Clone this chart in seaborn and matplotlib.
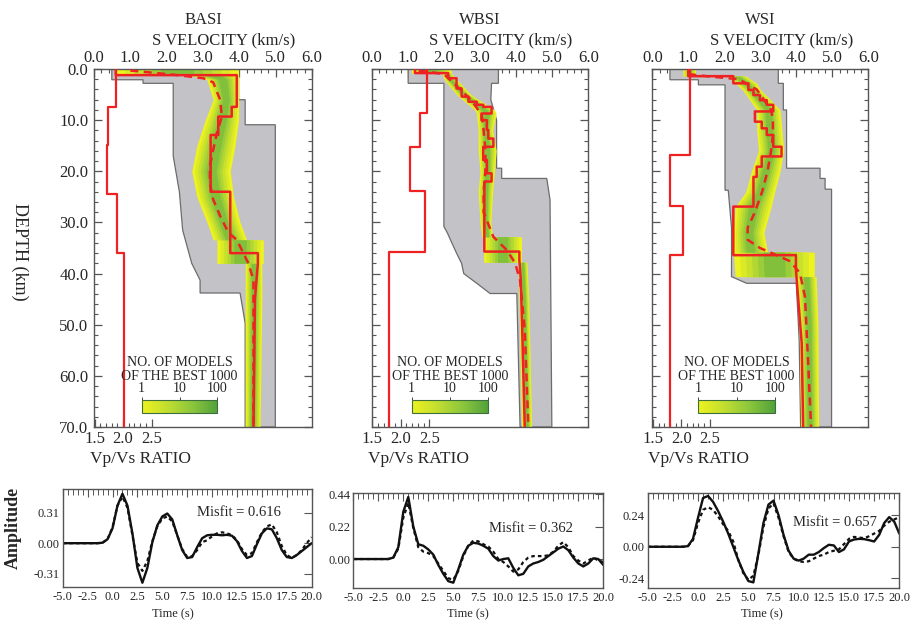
import numpy as np
import matplotlib
matplotlib.use("Agg")
import matplotlib.pyplot as plt
from matplotlib.colors import LinearSegmentedColormap, LogNorm
from matplotlib.cm import ScalarMappable
from matplotlib.ticker import MultipleLocator, FixedLocator
import seaborn as sns

# ------------------------------------------------------------------ data
stations = ["BASI", "WBSI", "WSI"]
misfits = [0.616, 0.362, 0.657]

# best-fitting S-velocity model: layer boundaries (km) / velocities (km/s) + gradient tail
basi_best_bounds = [0, 1.2, 7.4, 9.3, 12.9, 24, 36, 38]
basi_best_vs = [0.6, 3.93, 3.79, 3.42, 3.21, 3.75, 4.51]
basi_tail_depth = [45, 70]
basi_tail_vs = [4.43, 4.39]

wbsi_best_bounds = [0, 0.8, 1.8, 3.8, 5.4, 6.4, 7.0, 7.4, 8.7, 10, 11.9, 13.6, 15.2, 17.8, 20.4, 22, 35.7, 37.3]
wbsi_best_vs = [1.2, 2.12, 2.35, 2.49, 2.68, 2.91, 3.09, 3.32, 3.04, 3.19, 3.23, 3.37, 3.09, 3.19, 3.32, 3.12, 4.09]
wbsi_tail_depth = [41.3, 51, 70]
wbsi_tail_vs = [4.13, 4.17, 4.24]

wsi_best_bounds = [0, 1.4, 2.8, 4.1, 5.1, 6.1, 7.0, 8.3, 10.3, 11.6, 12.9, 15.2, 17.1, 19.1, 21.1, 26.9, 36.4, 39.3]
wsi_best_vs = [1.0, 2.25, 2.67, 2.81, 2.99, 3.18, 3.36, 2.85, 3.04, 3.18, 3.36, 3.59, 3.04, 2.90, 2.81, 2.25, 3.99]
wsi_tail_depth = [53.6, 70]
wsi_tail_vs = [4.15, 4.19]

# Vp/Vs ratio of the best model
basi_vpvs_bounds = [0, 7.4, 14.8, 24.5, 36, 70]
basi_vpvs = [1.87, 1.74, 1.72, 1.90, 2.01]
wbsi_vpvs_bounds = [0, 8.7, 15.2, 23.8, 35.7, 70]
wbsi_vpvs = [2.46, 2.34, 2.16, 2.43, 1.79]
wsi_vpvs_bounds = [0, 16.8, 26.8, 36.4, 70]
wsi_vpvs = [2.16, 1.80, 2.02, 1.80]

# mean of the best 1000 models
basi_mean_depth = [0.3, 1.2, 1.8, 2.6, 6, 9.3, 12.6, 15.8, 19, 22.3, 25.5, 28.7, 32, 33.4, 36, 38, 41.3, 70]
basi_mean_vs = [1.0, 2.3, 3.0, 3.28, 3.47, 3.52, 3.38, 3.28, 3.19, 3.19, 3.28, 3.47, 3.70, 3.93, 4.11, 4.25, 4.39, 4.39]
wbsi_mean_depth = [0.3, 1, 3, 6, 9, 12, 16, 20, 24, 28, 32.8, 35.4, 37.9, 41.3, 51, 70]
wbsi_mean_vs = [1.3, 2.0, 2.3, 2.75, 3.05, 3.1, 3.15, 3.15, 3.1, 3.1, 3.37, 3.74, 3.97, 4.11, 4.24, 4.34]
wsi_mean_depth = [1.0, 1.4, 2, 4, 6, 8, 10, 13, 16, 20, 24, 28, 31, 33.4, 35, 36.4, 37.6, 39.9, 44.5, 57.5, 70]
wsi_mean_vs = [1.0, 1.5, 2.4, 2.9, 3.1, 3.3, 3.35, 3.35, 3.3, 3.2, 3.05, 2.85, 2.65, 2.65, 2.99, 3.45, 3.83, 4.1, 4.24, 4.33, 4.41]

# envelope of all tested models
basi_env_left_depth = [0, 2.1, 2.1, 2.8, 2.8, 17, 24, 31.5, 38, 41.3, 43.8, 43.8, 49.7, 70]
basi_env_left_vs = [0.49, 0.49, 1.35, 1.35, 2.18, 2.18, 2.35, 2.44, 2.69, 2.92, 2.92, 4.02, 4.16, 4.16]
basi_env_right_depth = [0, 6, 6, 10.9, 10.9, 70]
basi_env_right_vs = [3.98, 3.98, 4.16, 4.16, 4.99, 4.99]
wbsi_env_left_depth = [0, 2.8, 2.8, 30.8, 32.1, 34, 36, 38, 40, 41.9, 43.9, 43.9, 70]
wbsi_env_left_vs = [1.01, 1.01, 2.0, 2.0, 2.1, 2.22, 2.35, 2.49, 2.55, 2.91, 3.28, 4.02, 4.11]
wbsi_env_right_depth = [0, 2.8, 2.8, 6, 10, 19.4, 19.4, 21.4, 21.4, 25.6, 70]
wbsi_env_right_vs = [3.51, 3.51, 3.32, 3.3, 3.46, 3.46, 3.6, 3.6, 4.85, 4.94, 4.99]
wsi_env_left_depth = [0, 2.1, 2.1, 3.1, 3.1, 23.7, 23.7, 31, 40.6, 41.9, 41.9, 53, 70]
wsi_env_left_vs = [0.49, 0.49, 1.28, 1.28, 2.02, 2.02, 2.11, 2.2, 2.2, 2.62, 4.0, 4.08, 4.12]
wsi_env_right_depth = [0, 2.8, 2.8, 8, 8, 19.4, 19.4, 21.4, 21.4, 23.5, 23.5, 70]
wsi_env_right_vs = [3.50, 3.50, 3.64, 3.64, 3.73, 3.73, 4.66, 4.66, 4.8, 4.8, 4.98, 4.98]

# range covered by the best 1000 models
basi_band_depth = [0, 1.2, 1.2, 2, 6, 10, 15, 20, 25, 30, 33.4, 33.4, 38, 38, 45, 70]
basi_band_lo = [0.6, 0.6, 2.57, 3.1, 3.28, 3.06, 2.83, 2.69, 2.83, 3.11, 3.28, 3.38, 3.38, 4.16, 4.16, 4.16]
basi_band_hi = [3.98, 3.98, 3.98, 3.98, 3.98, 3.98, 3.88, 3.75, 3.84, 4.02, 4.2, 4.66, 4.66, 4.62, 4.62, 4.57]
wbsi_band_depth = [0, 0.8, 0.8, 2, 5, 8, 8.7, 12, 16, 20, 24, 30, 32.8, 32.8, 37.8, 37.8, 45, 70]
wbsi_band_lo = [1.1, 1.1, 1.95, 2.0, 2.35, 2.85, 2.9, 2.95, 2.95, 3.0, 2.95, 3.0, 3.05, 3.1, 3.1, 4.05, 4.08, 4.15]
wbsi_band_hi = [2.2, 2.2, 2.2, 2.35, 2.75, 3.4, 3.45, 3.35, 3.45, 3.4, 3.35, 3.3, 3.35, 4.15, 4.15, 4.3, 4.35, 4.43]
wsi_band_depth = [0, 1.4, 1.4, 2.8, 4, 8, 12, 16, 20, 24, 27, 32, 35.8, 35.8, 40.6, 40.6, 50, 70]
wsi_band_lo = [0.85, 0.85, 2.1, 2.3, 2.5, 2.9, 2.9, 2.95, 2.75, 2.6, 2.3, 2.25, 2.25, 2.25, 2.3, 4.0, 4.08, 4.12]
wsi_band_hi = [1.2, 1.2, 2.6, 2.9, 3.0, 3.55, 3.6, 3.65, 3.55, 3.4, 3.3, 3.1, 3.2, 4.5, 4.5, 4.55, 4.6, 4.62]

# receiver functions: observed (solid) and synthetic (dotted), 0.5 s samples
time_s = np.linspace(-5.0, 20.0, 51)
basi_obs = [0, 0, 0, 0, 0, 0, 0, 0,
            0.005, 0.04, 0.15, 0.38, 0.50, 0.38, 0.10, -0.25, -0.40, -0.25,
            0.01, 0.18, 0.27, 0.30, 0.24, 0.08, -0.07, -0.15, -0.14, -0.04,
            0.05, 0.08, 0.085, 0.085, 0.08, 0.085, 0.075, 0.02, -0.08, -0.15,
            -0.13, -0.01, 0.10, 0.15, 0.14, 0.05, -0.07, -0.14, -0.15, -0.12,
            -0.08, -0.04, 0.00]
basi_syn = [0, 0, 0, 0, 0, 0, 0, 0,
            0.005, 0.04, 0.16, 0.38, 0.47, 0.36, 0.08, -0.20, -0.28, -0.18,
            0.02, 0.17, 0.25, 0.27, 0.22, 0.08, -0.06, -0.14, -0.13, -0.07,
            0.01, 0.03, 0.07, 0.10, 0.11, 0.10, 0.08, 0.03, -0.06, -0.12,
            -0.10, 0.01, 0.11, 0.17, 0.19, 0.11, -0.03, -0.12, -0.15, -0.12,
            -0.07, 0.00, 0.06]
wbsi_obs = [0, 0, 0, 0, 0, 0, 0, 0,
            0.01, 0.08, 0.32, 0.42, 0.22, 0.10, 0.09, 0.065, 0.03, -0.04,
            -0.10, -0.15, -0.16, -0.07, 0.03, 0.09, 0.11, 0.105, 0.09, 0.07,
            0.02, -0.01, 0.0, 0.005, -0.06, -0.11, -0.10, -0.05, -0.03, -0.02,
            -0.005, 0.02, 0.045, 0.07, 0.085, 0.06, 0.01, -0.03, -0.05, -0.03,
            0.005, 0.0, -0.04]
wbsi_syn = [0, 0, 0, 0, 0, 0, 0, 0,
            0.01, 0.07, 0.28, 0.38, 0.21, 0.08, 0.05, 0.04, 0.02, -0.03,
            -0.08, -0.13, -0.14, -0.08, 0.02, 0.09, 0.125, 0.12, 0.10, 0.085,
            0.05, 0.0, -0.02, -0.05, -0.085, -0.07, -0.02, 0.01, 0.02, 0.02,
            0.02, 0.025, 0.05, 0.09, 0.115, 0.08, 0.02, -0.01, -0.03, -0.01,
            0.01, -0.01, -0.02]
wsi_obs = [0, 0, 0, 0, 0, 0, 0, 0,
           0.005, 0.06, 0.22, 0.37, 0.385, 0.34, 0.27, 0.19, 0.10, 0.00,
           -0.10, -0.19, -0.26, -0.27, -0.05, 0.18, 0.32, 0.35, 0.24, 0.09,
           -0.03, -0.09, -0.105, -0.09, -0.06, -0.06, -0.04, -0.01, 0.015, 0.01,
           -0.04, -0.02, 0.04, 0.055, 0.06, 0.058, 0.05, 0.04, 0.09, 0.18,
           0.225, 0.19, 0.10]
wsi_syn = [0, 0, 0, 0, 0, 0, 0, 0,
           0.005, 0.05, 0.18, 0.28, 0.30, 0.28, 0.23, 0.17, 0.12, 0.04,
           -0.10, -0.20, -0.25, -0.22, -0.06, 0.15, 0.29, 0.33, 0.22, 0.08,
           -0.04, -0.09, -0.11, -0.115, -0.11, -0.09, -0.07, -0.06, -0.04, -0.03,
           -0.02, 0.02, 0.06, 0.075, 0.07, 0.065, 0.08, 0.10, 0.12, 0.16,
           0.19, 0.207, 0.225]

amp_ticks = [[-0.31, 0.0, 0.31], [0.0, 0.22, 0.44], [-0.24, 0.0, 0.24]]
amp_limits = [(-0.44, 0.548), (-0.198, 0.445), (-0.315, 0.41)]
vel_ticks = [0, 1, 2, 3, 4, 5, 6]
depth_ticks = [0, 10, 20, 30, 40, 50, 60, 70]
vpvs_ticks = [1.5, 2.0, 2.5]
time_ticks = [-5.0, -2.5, 0.0, 2.5, 5.0, 7.5, 10.0, 12.5, 15.0, 17.5, 20.0]
cb_ticks = [1, 10, 100]

# ------------------------------------------------------------------ style
sns.set_theme(style="white")
plt.rcParams["font.family"] = ["Liberation Serif", "DejaVu Serif"]
RED = "#ee2222"
GRAY = "#c3c3c7"
GRAY_EDGE = "#6c6c6c"
SPINE = "#555555"
density_cmap = LinearSegmentedColormap.from_list(
    "models", ["#eef21e", "#c2de30", "#8cc63c", "#52a23a"])

W, H = 911, 625
fig = plt.figure(figsize=(W / 100, H / 100), dpi=100)
fig.patch.set_facecolor("white")


def fig_axes(left, top, right, bottom):
    return fig.add_axes([left / W, 1 - bottom / H, (right - left) / W, (bottom - top) / H])


def fig_text(x, y, s, **kw):
    fig.text(x / W, 1 - y / H, s, **kw)


def staircase(bounds, vals):
    d = np.repeat(np.asarray(bounds, float), 2)[1:-1]
    v = np.repeat(np.asarray(vals, float), 2)
    return v, d


def style_spines(ax):
    for s in ax.spines.values():
        s.set_color(SPINE)
        s.set_linewidth(1.0)


profiles = [
    dict(bb=basi_best_bounds, bv=basi_best_vs, td=basi_tail_depth, tv=basi_tail_vs,
         pb=basi_vpvs_bounds, pv=basi_vpvs, md=basi_mean_depth, mv=basi_mean_vs,
         eld=basi_env_left_depth, elv=basi_env_left_vs, erd=basi_env_right_depth, erv=basi_env_right_vs,
         bd=basi_band_depth, blo=basi_band_lo, bhi=basi_band_hi),
    dict(bb=wbsi_best_bounds, bv=wbsi_best_vs, td=wbsi_tail_depth, tv=wbsi_tail_vs,
         pb=wbsi_vpvs_bounds, pv=wbsi_vpvs, md=wbsi_mean_depth, mv=wbsi_mean_vs,
         eld=wbsi_env_left_depth, elv=wbsi_env_left_vs, erd=wbsi_env_right_depth, erv=wbsi_env_right_vs,
         bd=wbsi_band_depth, blo=wbsi_band_lo, bhi=wbsi_band_hi),
    dict(bb=wsi_best_bounds, bv=wsi_best_vs, td=wsi_tail_depth, tv=wsi_tail_vs,
         pb=wsi_vpvs_bounds, pv=wsi_vpvs, md=wsi_mean_depth, mv=wsi_mean_vs,
         eld=wsi_env_left_depth, elv=wsi_env_left_vs, erd=wsi_env_right_depth, erv=wsi_env_right_vs,
         bd=wsi_band_depth, blo=wsi_band_lo, bhi=wsi_band_hi),
]
waves = [(basi_obs, basi_syn), (wbsi_obs, wbsi_syn), (wsi_obs, wsi_syn)]

top_px = [(94, 312), (371.7, 588.3), (652.3, 868.3)]
cbar_px = [(141.7, 217.3), (411.7, 488.3), (698.3, 775)]
wave_px = [(62.7, 489, 311.7, 586.7), (353.3, 493.3, 603.3, 588.3), (647.7, 492.7, 899.3, 588.3)]
misfit_px = [(239, 513), (531, 528), (835, 523)]
time_label_px = [173, 468, 762]

# ------------------------------------------------------------------ velocity profiles
for i, (name, p) in enumerate(zip(stations, profiles)):
    left, right = top_px[i]
    ax = fig_axes(left, 69, right, 427)
    ax.set_facecolor("white")
    ax2 = ax.twiny()

    # all tested models
    env_v = np.r_[p["elv"], p["erv"][::-1]]
    env_d = np.r_[p["eld"], p["erd"][::-1]]
    ax.fill(env_v, env_d, facecolor=GRAY, edgecolor=GRAY_EDGE, lw=0.9, zorder=1)

    # density of the best 1000 models: yellow rim to green core
    lo = np.asarray(p["blo"], float)
    hi = np.asarray(p["bhi"], float)
    mid = 0.5 * (lo + hi)
    n_levels = 6
    for k in range(n_levels):
        f = 0.88 * k / n_levels
        ax.fill_betweenx(p["bd"], lo + (mid - lo) * f, hi - (hi - mid) * f,
                         color=density_cmap(0.72 * k / (n_levels - 1)), lw=0, zorder=2)

    # best model and mean model
    sv, sd = staircase(p["bb"], p["bv"])
    ax.plot(np.r_[sv, p["tv"]], np.r_[sd, p["td"]], color=RED, lw=1.8, zorder=4)
    ax.plot(p["mv"], p["md"], color=RED, lw=1.8, ls=(0, (3.2, 2.2)), zorder=5)

    ax.set_xlim(0, 6)
    ax.set_ylim(70, 0)
    ax.xaxis.tick_top()
    ax.xaxis.set_label_position("top")
    ax.set_xticks(vel_ticks, labels=[f"{v:.1f}" for v in vel_ticks])
    ax.xaxis.set_minor_locator(MultipleLocator(0.2))
    ax.set_yticks(depth_ticks, labels=[f"{v:.1f}" for v in depth_ticks])
    ax.yaxis.set_minor_locator(MultipleLocator(2))
    ax.tick_params(axis="x", which="both", direction="in", top=True, bottom=False,
                   labeltop=True, labelbottom=False, labelsize=12, pad=2, color=SPINE)
    ax.tick_params(axis="y", which="both", direction="in", left=True, right=True,
                   labelleft=(i == 0), labelsize=12, pad=4, color=SPINE)
    ax.tick_params(which="major", length=6, width=0.9)
    ax.tick_params(which="minor", length=3, width=0.8)
    ax.set_xlabel("")
    ax.set_ylabel("")
    style_spines(ax)

    # Vp/Vs ratio on its own scale
    ax2.set_xlim(1.49, 1.49 + (right - left) / 57.0)
    pv, pd = staircase(p["pb"], p["pv"])
    ax2.plot(pv, pd, color=RED, lw=1.6, zorder=3)
    ax2.set_ylim(70, 0)
    ax2.xaxis.tick_bottom()
    ax2.xaxis.set_label_position("bottom")
    ax2.set_xticks(vpvs_ticks, labels=[f"{v:.1f}" for v in vpvs_ticks])
    ax2.xaxis.set_minor_locator(FixedLocator([1.6, 1.7, 1.8, 1.9, 2.1, 2.2, 2.3, 2.4]))
    ax2.tick_params(axis="x", which="both", direction="in", bottom=True, top=False,
                    labelbottom=True, labeltop=False, labelsize=12, pad=3, color=SPINE)
    ax2.tick_params(which="major", length=6, width=0.9)
    ax2.tick_params(which="minor", length=3, width=0.8)
    for s in ax2.spines.values():
        s.set_visible(False)

    cx = 0.5 * (left + right)
    fig_text(cx, 20, name, ha="center", va="center", fontsize=12)
    fig_text(cx + 21, 40, "S VELOCITY (km/s)", ha="center", va="center", fontsize=12)
    fig_text(left - 4, 459, "Vp/Vs RATIO", ha="left", va="center", fontsize=12.5)

    # colour scale for number of models
    c0, c1 = cbar_px[i]
    ccx = 0.5 * (c0 + c1)
    fig_text(ccx, 362, "NO. OF MODELS", ha="center", va="center", fontsize=10)
    fig_text(ccx, 376, "OF THE BEST 1000", ha="center", va="center", fontsize=10)
    cax = fig_axes(c0, 400, c1, 412.7)
    cb = fig.colorbar(ScalarMappable(norm=LogNorm(1, 100), cmap=density_cmap),
                      cax=cax, orientation="horizontal")
    cb.set_ticks(cb_ticks, labels=[str(v) for v in cb_ticks])
    cax.minorticks_off()
    cax.xaxis.set_ticks_position("top")
    cax.tick_params(axis="x", which="major", direction="out", length=2.5, width=0.7,
                    labelsize=10, pad=1, color="#444444")
    cb.outline.set_edgecolor("#3d6e3d")
    cb.outline.set_linewidth(0.8)

fig_text(20, 252, "DEPTH (km)", ha="center", va="center", rotation=270, fontsize=13)

# ------------------------------------------------------------------ receiver functions
for i, (obs, syn) in enumerate(waves):
    l, t, r, b = wave_px[i]
    bx = fig_axes(l, t, r, b)
    bx.set_facecolor("white")
    sns.lineplot(x=time_s, y=np.asarray(obs), ax=bx, color="#111111", linewidth=1.7,
                 sort=False, estimator=None)
    sns.lineplot(x=time_s, y=np.asarray(syn), ax=bx, color="#111111", linewidth=1.6,
                 sort=False, estimator=None, linestyle=(0, (1.6, 1.4)))
    bx.set_xlim(-5, 20)
    bx.set_ylim(*amp_limits[i])
    bx.set_xticks(time_ticks, labels=[f"{v:.1f}" for v in time_ticks])
    bx.xaxis.set_minor_locator(MultipleLocator(0.5))
    bx.set_yticks(amp_ticks[i], labels=[f"{v:.2f}" for v in amp_ticks[i]])
    bx.tick_params(axis="both", which="both", direction="in", top=True, right=True,
                   labelsize=9, color=SPINE)
    bx.tick_params(axis="x", pad=3)
    bx.tick_params(axis="y", pad=2)
    bx.tick_params(which="major", length=6, width=0.8)
    bx.tick_params(which="minor", length=4, width=0.7)
    bx.set_xlabel("")
    bx.set_ylabel("")
    style_spines(bx)
    mx, my = misfit_px[i]
    fig_text(mx, my, f"Misfit = {misfits[i]:.3f}", ha="center", va="center", fontsize=10.5)
    fig_text(time_label_px[i], 614, "Time (s)", ha="center", va="center", fontsize=9)

fig_text(13, 528, "Amplitude", ha="center", va="center", rotation=90,
         fontsize=13, fontweight="bold")

fig.savefig("out.png", dpi=100, facecolor="white")
